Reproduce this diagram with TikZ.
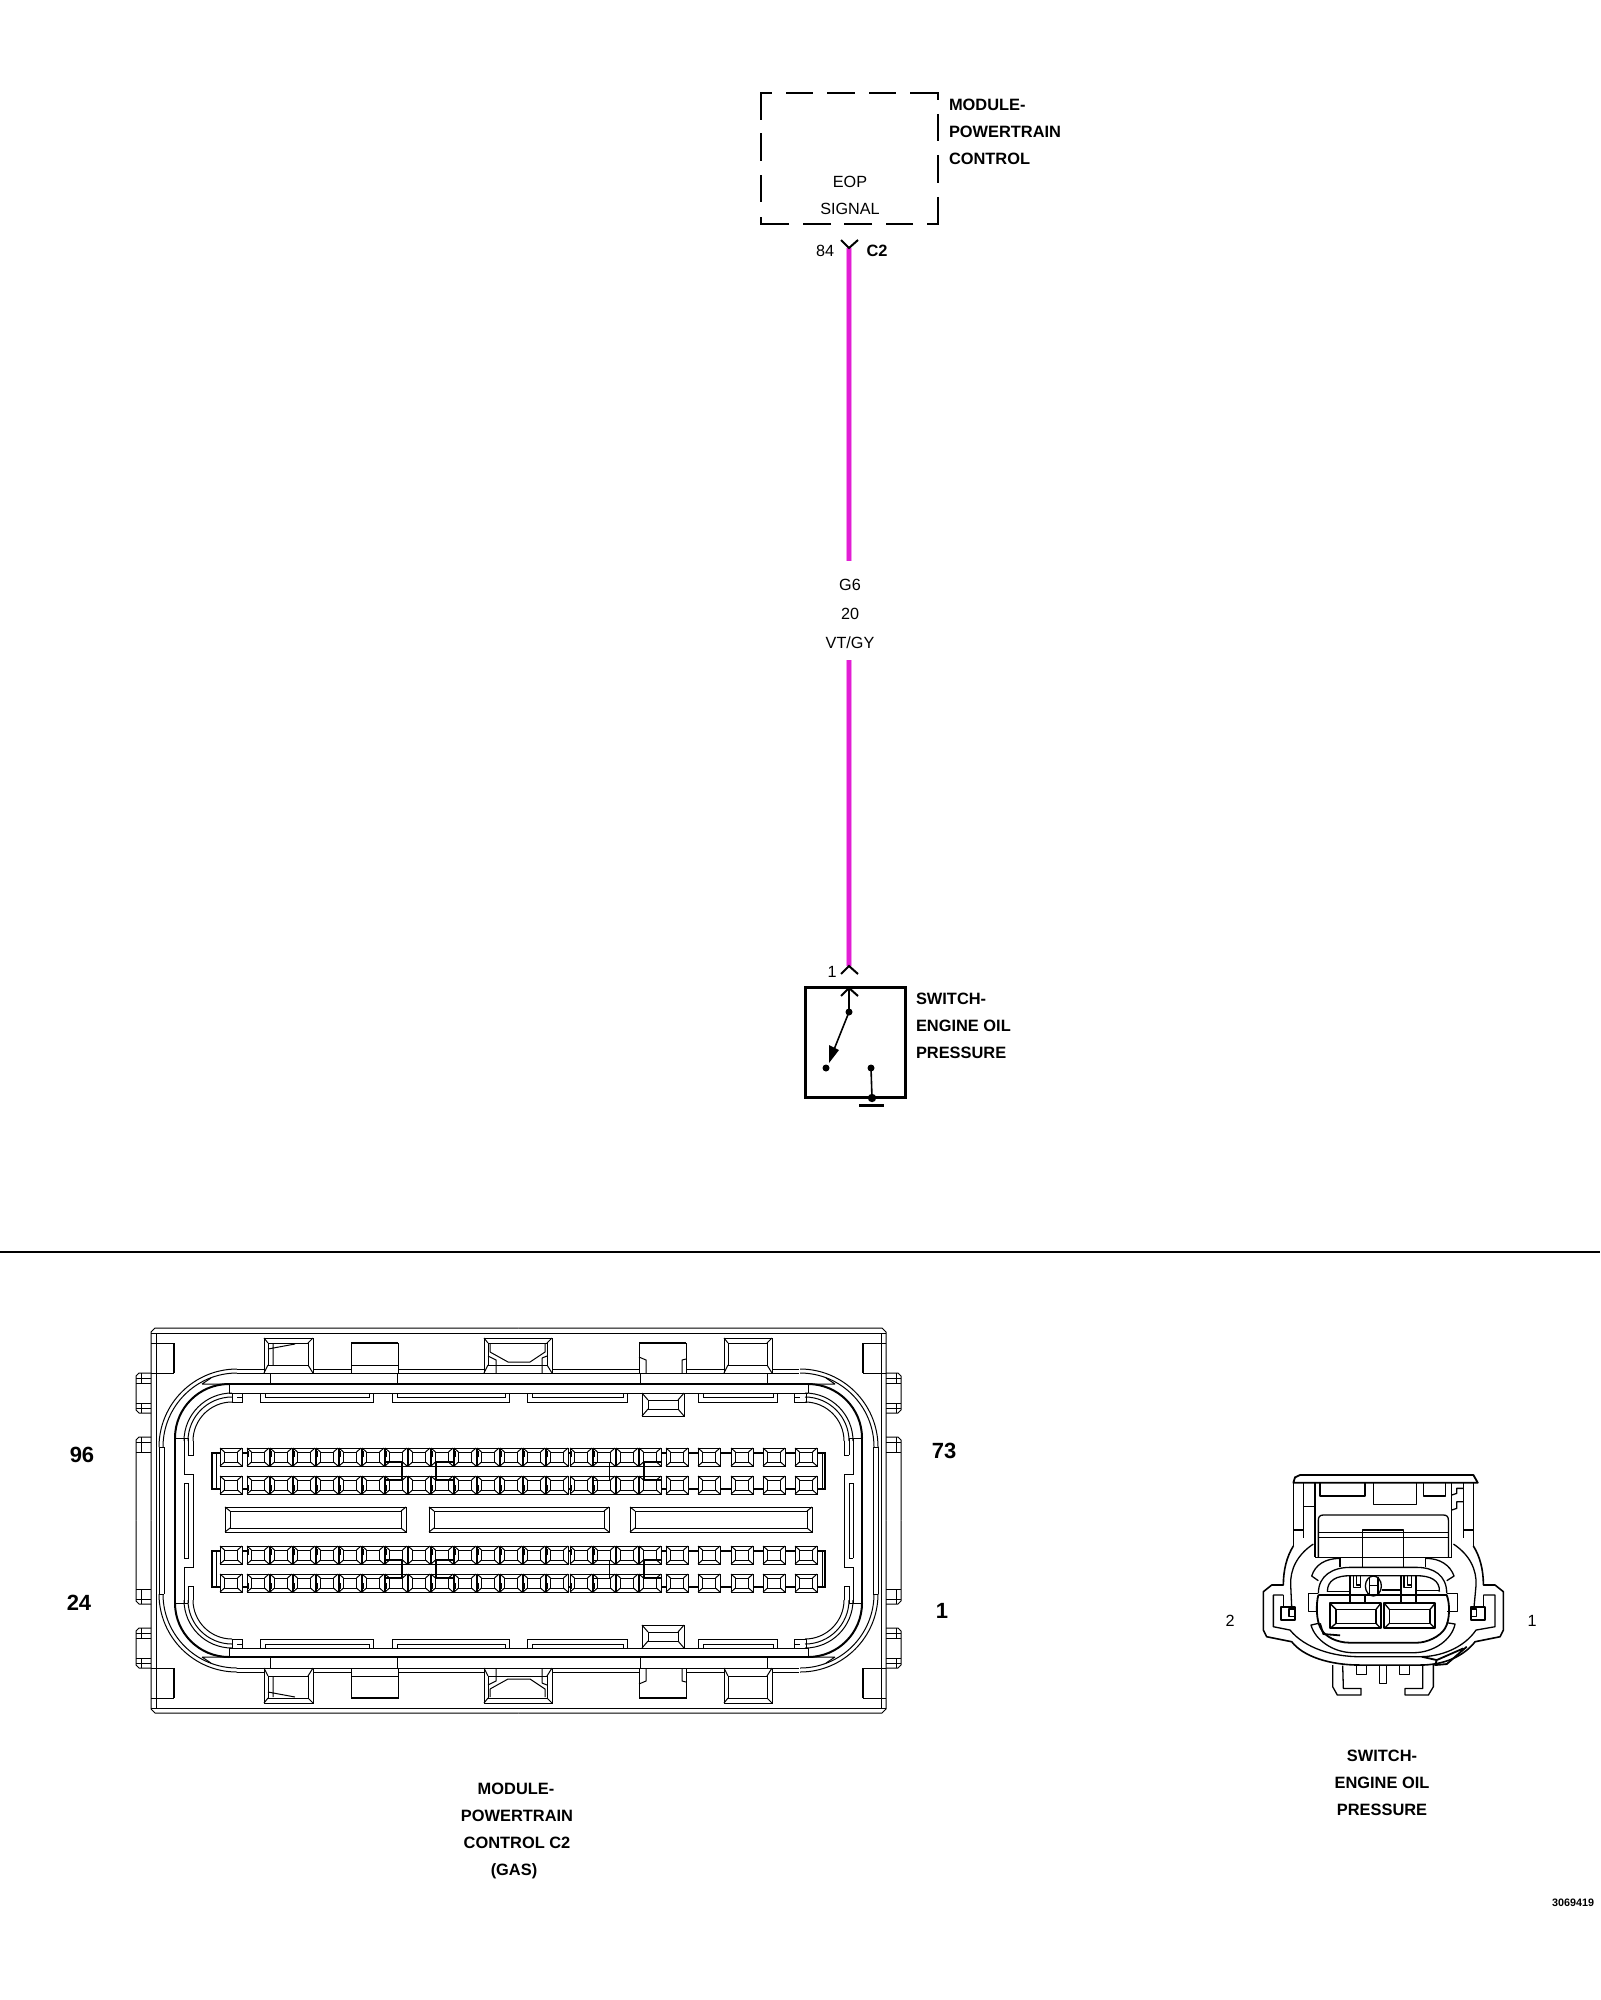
\documentclass[tikz,border=0pt]{standalone}
\usepackage{fontspec}
\setmainfont{Liberation Sans}
\newcommand{\lbl}[1]{\fontsize{8.1}{10}\selectfont #1}
\newcommand{\blbl}[1]{\fontsize{8.2}{10}\selectfont\bfseries #1}
\newcommand{\bignum}[1]{\fontsize{11}{13}\selectfont\bfseries #1}
% quarter arc: centre, radius (centre at #1,#2), running from top to left
\newcommand{\qarc}[3]{({#1},{#2-#3}) .. controls ({#1-0.552*#3},{#2-#3}) and ({#1-#3},{#2-0.552*#3}) .. ({#1-#3},{#2})}
% bevelled rectangle
\newcommand{\bev}[6]{%
  \draw[fill=white] (#1,#2) rectangle (#3,#4);
  \draw ({#1+#5},{#2+#6}) rectangle ({#3-#5},{#4-#6});
  \draw (#1,#2) -- ({#1+#5},{#2+#6}) (#3,#2) -- ({#3-#5},{#2+#6}) (#1,#4) -- ({#1+#5},{#4-#6}) (#3,#4) -- ({#3-#5},{#4-#6});}
% tall tab with bevel at top
\newcommand{\ttab}[2]{%
  \draw[fill=white] (#1,1338) rectangle (#2,1373);
  \draw ({#1+4},1343) rectangle ({#2-5},1365);
  \draw (#1,1338) -- ({#1+4},1343) (#2,1338) -- ({#2-5},1343) (#1,1373) -- ({#1+4},1365) (#2,1373) -- ({#2-5},1365);}
\newcommand{\slat}[2]{%
  \draw (#1,1393) -- (#1,1402) -- (#2,1402) -- (#2,1393);
  \draw ({#1+5},1393) -- ({#1+5},1397) -- ({#2-4},1397) -- ({#2-4},1393);}
% one quadrant of the PCM connector (top left)
\newcommand{\quadrant}{%
  \draw (151,1520.5) -- (151,1332) -- (155,1328) -- (518.5,1328);
  \draw (156,1520.5) -- (156,1333) -- (518.5,1333);
  \draw (151,1333) -- (156,1333);
  \draw (151,1343) -- (174,1343);
  \draw[hvy] (174,1343) -- (174,1373);
  \draw (151,1373) -- (174,1373);
  % side tabs
  \draw (151,1373) -- (139,1373) -- (136,1376) -- (136,1410) -- (139,1413) -- (151,1413);
  \draw (136,1378) -- (151,1378) (136,1383) -- (151,1383) (136,1403) -- (151,1403) (136,1408) -- (151,1408);
  \draw (141,1373) -- (141,1383) (141,1403) -- (141,1413);
  \draw (151,1437) -- (139,1437) -- (136,1440) -- (136,1520.5);
  \draw (136,1442) -- (151,1442) (136,1452) -- (151,1452) (141,1437) -- (141,1452);
  % seal arcs
  \draw \qarc{237}{1447}{78};
  \draw \qarc{237}{1447}{74};
  \draw (159,1447) -- (159,1520.5) (164,1447) -- (164,1520.5) (159,1447) -- (164,1447);
  \draw[hvy] \qarc{229}{1438}{54};
  \draw[hvy] (175,1438) -- (175,1520.5);
  \draw (202,1384) -- (229,1384) (202,1384) -- (211,1378);
  \draw (229,1384) -- (229,1393);
  \draw \qarc{232}{1441}{48};
  \draw \qarc{232}{1441}{44};
  \draw \qarc{232}{1441}{39};
  \draw (175,1438) -- (188,1438);
  \draw (184,1438) -- (184,1474) -- (193,1474) -- (193,1520.5);
  \draw (188,1438) -- (188,1455) (193,1441) -- (193,1455) -- (188,1455);
  \draw (184,1483) -- (188,1483) -- (188,1520.5) (184,1483) -- (184,1520.5);
}
% top edge of the PCM connector
\newcommand{\topedge}{%
  \draw (237,1369) -- (799,1369);
  \draw (237,1373) -- (799,1373);
  \draw[hvy] (229,1384) -- (808,1384);
  \draw (229,1393) -- (808,1393);
  \draw (232,1393) -- (232,1402) -- (242,1402) -- (242,1393) (237,1397) -- (242,1397);
  \draw (794,1393) -- (794,1402) -- (806,1402) -- (806,1393) (794,1397) -- (800,1397);
  \slat{260}{373}\slat{392}{509}\slat{527}{627}\slat{698}{777}
  \draw (270,1373) rectangle (397,1384);
  \draw (640,1373) rectangle (767,1384);
  \ttab{264}{313}
  \draw (273,1344) -- (273,1365) (268,1349) -- (295,1344);
  \draw[fill=white] (351,1343) rectangle (398,1373);
  \draw[hvy] (351,1343) -- (398,1343);
  \draw (351,1365) -- (398,1365);
  \ttab{484}{552}
  \draw (490,1352) -- (508,1362) -- (530,1362) -- (545,1352) -- (545,1344);
  \draw (488,1356) -- (496,1360) -- (496,1373) (542,1358) -- (547,1356) (542,1358) -- (542,1373) (490,1344) -- (490,1352);
  \draw[fill=white] (639,1343) rectangle (686,1373);
  \draw[hvy] (639,1343) -- (686,1343);
  \draw (639,1357) -- (646,1360) -- (646,1373) (686,1359) -- (682,1360) -- (682,1373);
  \ttab{724}{772}
  \draw (729,1365) -- (768,1365);
  \bev{642}{1393}{684}{1416}{6}{7}
}
\newcommand{\pinrows}{%
  \draw[hvy] (212,1453) -- (825,1453) -- (825,1489) -- (212,1489) -- cycle;
  \draw (216,1453) -- (216,1489) (822,1453) -- (822,1489);
  \foreach \p in {220,247,270,293,316,339,362,385,408,431,454,477,500,523,546,570,593,616,639,666,698,731,763,795} {
    \bev{\p}{1448}{\p+22}{1466}{4.5}{4}
    \bev{\p}{1476}{\p+22}{1494}{4.5}{4}
  }
  \foreach \p in {247,270,293,316,339,362,385,431,454,477,500,523,546,570,593} {
    \draw (\p+1.5,1451) -- (\p+1.5,1457);
    \draw (\p+1.5,1485) -- (\p+1.5,1491);
  }
  \draw[hvy] (385,1462) -- (402,1462) -- (402,1480) -- (385,1480);
  \draw[hvy] (453,1462) -- (436,1462) -- (436,1480) -- (453,1480);
  \draw (593,1462) -- (609,1462) -- (609,1480) -- (593,1480);
  \draw[hvy] (661,1462) -- (644,1462) -- (644,1480) -- (661,1480);
}
\tikzset{
  mirx/.style={shift={(1037,0)},xscale=-1},
  miry/.style={shift={(0,3041)},yscale=-1},
  hvy/.style={line width=1pt},
  dash box/.style={line width=1.4pt,line cap=butt},
  wirecore/.style={line width=2.2pt,draw=wirecol},
  wirehalo/.style={line width=3.4pt,draw=wirecol!45},
  txt/.style={anchor=base,inner sep=0pt,outer sep=0pt},
  txtl/.style={anchor=base west,inner sep=0pt,outer sep=0pt},
  sc/.style={line width=0.65pt,line join=round},
}
\definecolor{wirecol}{RGB}{226,30,212}
\begin{document}
\begin{tikzpicture}[x=0.5pt,y=-0.5pt,line width=0.5pt]
\useasboundingbox (0,0) rectangle (1600,2000);
\fill[white] (0,0) rectangle (1600,2000);

% module box
\draw[dash box] (761,120) -- (761,93) -- (772,93) (786,93) -- (813,93) (827,93) -- (855,93) (869,93) -- (896,93) (910,93) -- (938,93) -- (938,100);
\draw[dash box] (938,114) -- (938,141) (938,155) -- (938,183) (938,197) -- (938,224) -- (927,224);
\draw[dash box] (913,224) -- (886,224) (872,224) -- (844,224) (831,224) -- (803,224) (789,224) -- (761,224) -- (761,217);
\draw[dash box] (761,202) -- (761,175) (761,161) -- (761,133);
\node[txtl] (modA) at (949,111) {\blbl{MODULE-}};
\node[txtl] (modB) at (949,138) {\blbl{POWERTRAIN}};
\node[txtl] (modC) at (949,165) {\blbl{CONTROL}};
\node[txt] (eop) at (850,188) {\lbl{EOP}};
\node[txt] (sig) at (850,215) {\lbl{SIGNAL}};
\node[txt] (p84) at (825,257) {\lbl{84}};
\node[txt] (c2) at (877,257) {\blbl{C2}};

% wire
\coordinate (pcmpin) at (849,248);
\coordinate (wA) at (849,561);
\coordinate (wB) at (849,660);
\coordinate (swpin) at (849,966);
\draw[wirehalo] (pcmpin) -- (wA);
\draw[wirecore] (pcmpin) -- (wA);
\draw[wirehalo] (wB) -- (swpin);
\draw[wirecore] (wB) -- (swpin);
\draw[line width=1pt] (841,240) -- (pcmpin) -- (858,240);
\draw[line width=1pt] (841,974) -- (swpin) -- (858,974);
\node[txt] (g6) at (850,590) {\lbl{G6}};
\node[txt] (w20) at (850,619) {\lbl{20}};
\node[txt] (vt) at (850,648) {\lbl{VT/GY}};
\node[txt] (p1) at (832,977) {\lbl{1}};

% switch
\draw[line width=1.5pt] (805,987) rectangle (905,1097);
\coordinate (a0) at (849,988);
\coordinate (a1) at (849,1012);
\coordinate (a2) at (826,1068);
\coordinate (a3) at (871,1068);
\coordinate (a4) at (872,1098);
\draw[line width=1pt] (841,996) -- (a0) -- (858,996);
\draw[line width=0.8pt] (a0) -- (a1);
\draw[line width=0.8pt] (a1) -- (833,1052);
\fill (829,1063) -- (829,1045) -- (839,1050) -- cycle;
\fill (a1) circle [x radius=3.5,y radius=3.5];
\fill (a2) circle [x radius=3.5,y radius=3.5];
\fill (a3) circle [x radius=3.5,y radius=3.5];
\draw[line width=0.8pt] (a3) -- (a4);
\fill (a4) circle [x radius=4.2,y radius=4.2];
\draw[line width=1.5pt] (859,1105) -- (884,1105);
\node[txtl] (swA) at (916,1004) {\blbl{SWITCH-}};
\node[txtl] (swB) at (916,1031) {\blbl{ENGINE OIL}};
\node[txtl] (swC) at (916,1058) {\blbl{PRESSURE}};

% separator
\draw[line width=1pt] (0,1252) -- (1600,1252);

% PCM connector
\quadrant
\begin{scope}[mirx]\quadrant\end{scope}
\begin{scope}[miry]\quadrant\end{scope}
\begin{scope}[miry]\begin{scope}[mirx]\quadrant\end{scope}\end{scope}
\topedge
\begin{scope}[miry]\topedge\end{scope}
\pinrows
\begin{scope}[yshift=-49pt]\pinrows\end{scope}
\bev{225}{1507}{406}{1532}{5}{4}
\bev{429}{1507}{609}{1532}{5}{4}
\bev{630}{1507}{812}{1532}{5}{4}

\node[txt] (n96) at (82,1462) {\bignum{96}};
\node[txt] (n73) at (944,1458) {\bignum{73}};
\node[txt] (n24) at (79,1610) {\bignum{24}};
\node[txt] (n1) at (942,1618) {\bignum{1}};
\node[txt] (pA) at (516,1794) {\blbl{MODULE-}};
\node[txt] (pB) at (517,1821) {\blbl{POWERTRAIN}};
\node[txt] (pC) at (517,1848) {\blbl{CONTROL C2}};
\node[txt] (pD) at (514,1875) {\blbl{(GAS)}};

% switch connector (coordinates of a 3x view)
\begin{scope}[shift={(1250,1460)},x=0.1667pt,y=-0.1667pt,sc]
\draw[line width=0.9pt] (130,68) -- (135,52) -- (150,45) -- (670,45) -- (683,68) -- cycle;
\draw (130,68) -- (130,258) (160,68) -- (160,235) (195,68) -- (195,292) (605,68) -- (605,292) (640,68) -- (640,235) (670,68) -- (670,258);
\draw (160,140) -- (195,140) (130,210) -- (160,210) (640,210) -- (670,210);
\draw (210,68) -- (210,108) -- (345,108) -- (345,68);
\draw (370,68) -- (370,133) -- (500,133) -- (500,68);
\draw (520,68) -- (520,108) -- (587,108) -- (587,68);
\draw (605,105) -- (620,100) -- (620,85) -- (640,85) (605,150) -- (620,145) -- (620,125) -- (640,125);
\draw (205,292) -- (205,180) .. controls (205,170) and (210,165) .. (220,165) -- (580,165) .. controls (590,165) and (595,170) .. (595,180) -- (595,292);
\draw (205,218) -- (338,218) (205,232) -- (338,232) (460,218) -- (595,218) (460,232) -- (595,232);
\draw (338,320) -- (338,210) -- (460,210) -- (460,320) (338,232) -- (460,232) (338,218) -- (460,218);
\draw (195,292) -- (605,292) (270,292) -- (270,322) (527,292) -- (527,322);
% outer shells
\draw (190,252) .. controls (140,285) and (120,330) .. (122,375) -- (125,440);
\draw (610,252) .. controls (660,285) and (680,330) .. (678,375) -- (672,440);
\draw[line width=0.8pt] (130,258) .. controls (110,290) and (100,330) .. (100,375) -- (65,375) -- (40,395) -- (40,510) -- (50,530) -- (125,545) .. controls (160,590) and (240,615) .. (330,615) -- (510,615) .. controls (580,615) and (640,590) .. (675,545) -- (750,530) -- (760,510) -- (760,395) -- (735,375) -- (700,375) .. controls (700,330) and (690,290) .. (670,258);
\draw (100,405) -- (70,405) -- (70,500) -- (120,510) .. controls (165,565) and (250,590) .. (330,590) -- (510,590) .. controls (570,590) and (640,565) .. (678,510) -- (735,500) -- (735,405) -- (700,405);
\draw (100,405) -- (100,440) (700,405) -- (700,440);
% inner shells
\draw (205,362) -- (185,348) .. controls (195,315) and (225,295) .. (270,295);
\draw (590,362) -- (612,348) .. controls (600,315) and (570,295) .. (527,295);
\draw (205,400) .. controls (205,345) and (250,322) .. (300,322) -- (500,322) .. controls (550,322) and (590,345) .. (590,400);
\draw (232,395) .. controls (232,360) and (260,347) .. (300,347) -- (500,347) .. controls (540,347) and (570,360) .. (568,395);
\draw[line width=0.9pt] (205,405) -- (590,405) .. controls (600,430) and (600,480) .. (585,505) .. controls (570,530) and (530,548) .. (500,548) -- (300,548) .. controls (260,548) and (225,530) .. (212,505) .. controls (198,480) and (198,430) .. (205,405);
\draw (205,490) -- (183,495) .. controls (195,540) and (250,578) .. (310,578) -- (490,578) .. controls (550,578) and (605,540) .. (615,492) -- (590,488);
\draw[line width=0.9pt] (210,490) -- (220,522) -- (270,526);
\draw[line width=0.9pt] (515,590) -- (560,600) -- (640,565) (560,600) -- (555,615) -- (590,612) -- (650,560);
% cavities
\draw[line width=0.9pt] (240,430) rectangle (392,505);
\draw[line width=0.9pt] (403,430) rectangle (555,505);
\draw (258,448) rectangle (378,490) (418,448) rectangle (540,490);
\draw (240,430) -- (258,448) (392,430) -- (378,448) (240,505) -- (258,490) (392,505) -- (378,490);
\draw (403,430) -- (418,448) (555,430) -- (540,448) (403,505) -- (418,490) (555,505) -- (540,490);
\draw (300,347) -- (300,430) (345,405) -- (345,430) (453,347) -- (453,430) (498,347) -- (498,430);
\draw (232,395) -- (300,395) (500,392) -- (568,392) (395,390) -- (453,390);
\draw (310,347) -- (310,382) -- (332,382) -- (332,347) (320,347) -- (320,375) -- (332,375);
\draw (462,347) -- (462,382) -- (485,382) -- (485,347) (472,347) -- (472,375) -- (485,375);
\draw (370,378) ellipse [x radius=24,y radius=30];
\draw (358,350) -- (358,405) (384,350) -- (384,405) (358,376) -- (384,376);
\draw (205,400) -- (175,400) -- (175,455) -- (205,455);
\draw (592,400) -- (622,400) -- (622,455) -- (592,455);
\draw[line width=0.9pt] (93,440) rectangle (135,480);
\draw (117,447) rectangle (135,470);
\draw[line width=0.9pt] (663,440) rectangle (705,480);
\draw (665,447) rectangle (680,470);
% clips
\draw (248,615) -- (248,680) -- (262,705) -- (333,705) -- (333,685) -- (280,685) -- (278,617);
\draw (550,615) -- (550,680) -- (535,705) -- (465,705) -- (465,685) -- (518,685) -- (518,617);
\draw (320,617) -- (320,643) -- (350,643) -- (350,617);
\draw (448,617) -- (448,643) -- (478,643) -- (478,617);
\draw (388,617) -- (388,670) -- (410,670) -- (410,617);
\end{scope}

\node[txt] (s2) at (1230,1626) {\lbl{2}};
\node[txt] (s1) at (1532,1626) {\lbl{1}};
\node[txt] (sA) at (1382,1761) {\blbl{SWITCH-}};
\node[txt] (sB) at (1382,1788) {\blbl{ENGINE OIL}};
\node[txt] (sC) at (1382,1815) {\blbl{PRESSURE}};
\node[txt] (fig) at (1573,1906) {\fontsize{5.4}{6}\selectfont\bfseries 3069419};
\end{tikzpicture}
\end{document}
